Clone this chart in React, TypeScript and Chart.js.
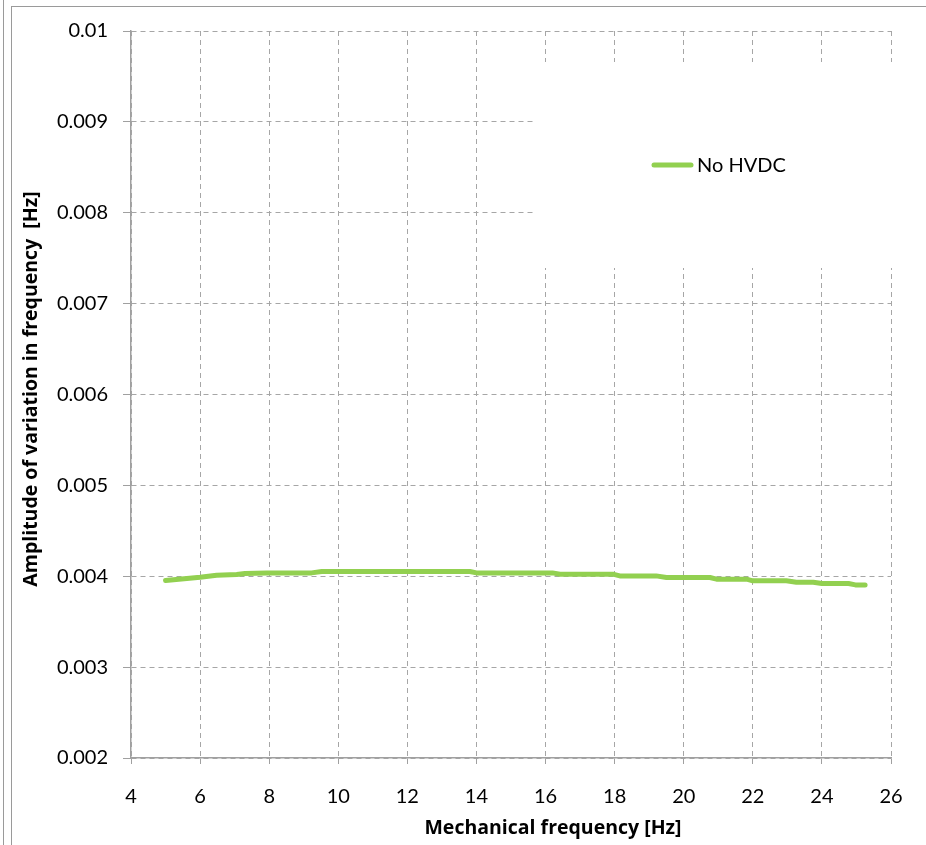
import React, { useEffect, useRef } from "react";
import { Chart, registerables } from "chart.js";

Chart.register(...registerables);

const seriesLabel = "No HVDC";
const freqHz = [5.0, 6.0, 6.48, 7.06, 7.3, 7.93, 9.23, 9.52, 13.81, 14.0, 16.2, 16.42, 17.95, 18.15, 19.2, 19.5, 20.76, 20.95, 21.82, 22.0, 22.97, 23.26, 23.75, 24.0, 24.77, 24.97, 25.25];
const amplitude = [0.003953, 0.00399, 0.004012, 0.004019, 0.00403, 0.004037, 0.004037, 0.004052, 0.004052, 0.004037, 0.004037, 0.004023, 0.004023, 0.004004, 0.004004, 0.003986, 0.003986, 0.003968, 0.003968, 0.00395, 0.00395, 0.003935, 0.003935, 0.00392, 0.00392, 0.003905, 0.003905];
const xTitle = "Mechanical frequency [Hz]";
const yTitle = "Amplitude of variation in frequency  [Hz]";
const xMin = 4, xMax = 26, xStep = 2;
const yMin = 0.002, yMax = 0.01, yStep = 0.001;

const LINE_COLOR = "#92D050";
const GRID_COLOR = "#a6a6a6";
const AXIS_COLOR = "#a0a0a0";
const FONT = "Lato";
const TITLE_FONT = "'Open Sans'";

export default function App() {
  const ref = useRef<HTMLCanvasElement | null>(null);

  useEffect(() => {
    if (!ref.current) return;
    const decor = {
      id: "decor",
      beforeDatasetsDraw(chart: any) {
        const ctx = chart.ctx;
        ctx.save();
        // legend box
        ctx.fillStyle = "#ffffff";
        ctx.fillRect(535, 62, 391, 206);
        ctx.strokeStyle = LINE_COLOR;
        ctx.lineWidth = 5;
        ctx.lineCap = "round";
        ctx.beginPath();
        ctx.moveTo(654, 165);
        ctx.lineTo(691, 165);
        ctx.stroke();
        ctx.fillStyle = "#000";
        ctx.font = `20px ${FONT}`;
        ctx.textBaseline = "middle";
        ctx.textAlign = "left";
        ctx.fillText(chart.data.datasets[0].label, 697, 166);
        ctx.restore();
      },
      afterDraw(chart: any) {
        const ctx = chart.ctx;
        ctx.save();
        ctx.fillStyle = "#000";
        ctx.font = `bold 19.5px ${TITLE_FONT}`;
        ctx.textAlign = "center";
        ctx.textBaseline = "middle";
        ctx.fillText(xTitle, 553, 828);
        ctx.translate(31, 389);
        ctx.rotate(-Math.PI / 2);
        ctx.fillText(yTitle, 0, 0);
        ctx.restore();
      },
    };

    const chart = new Chart(ref.current, {
      type: "line",
      data: {
        datasets: [
          {
            label: seriesLabel,
            data: freqHz.map((x, i) => ({ x, y: amplitude[i] })),
            borderColor: LINE_COLOR,
            backgroundColor: LINE_COLOR,
            borderWidth: 5,
            pointRadius: 0,
            tension: 0,
            borderCapStyle: "round",
            borderJoinStyle: "round",
          },
        ],
      },
      options: {
        responsive: false,
        animation: false,
        layout: { padding: { left: 0, right: 35, top: 31, bottom: 0 } },
        plugins: { legend: { display: false }, tooltip: { enabled: false } },
        scales: {
          x: {
            type: "linear",
            min: xMin,
            max: xMax,
            ticks: {
              stepSize: xStep,
              color: "#000",
              font: { family: FONT, size: 20 },
              padding: 21,
              maxRotation: 0,
            },
            grid: { color: GRID_COLOR, lineWidth: 1, tickLength: 6, tickColor: AXIS_COLOR },
            border: { display: true, color: AXIS_COLOR, width: 1.5, dash: [5, 4] },
            afterFit: (s: any) => {
              s.height = 87;
            },
          },
          y: {
            type: "linear",
            min: yMin,
            max: yMax,
            ticks: {
              stepSize: yStep,
              color: "#000",
              font: { family: FONT, size: 20 },
              padding: 15,
              callback: (v: any) => String(Number(Number(v).toFixed(4))),
            },
            grid: { color: GRID_COLOR, lineWidth: 1, tickLength: 8, tickColor: AXIS_COLOR },
            border: { display: true, color: AXIS_COLOR, width: 1.5, dash: [5, 4] },
            afterFit: (s: any) => {
              s.width = 131;
            },
          },
        },
      },
      plugins: [decor],
    });
    return () => chart.destroy();
  }, []);

  const line = (style: React.CSSProperties) => (
    <div style={{ position: "absolute", background: "#9a9a9a", ...style }} />
  );

  return (
    <div style={{ position: "absolute", left: 0, top: 0, width: 926, height: 845, background: "#fff", overflow: "hidden" }}>
      {line({ left: 3, top: 0, width: 1, height: 845 })}
      {line({ left: 11, top: 6, width: 1, height: 839 })}
      {line({ left: 11, top: 6, width: 915, height: 1 })}
      <canvas ref={ref} width={926} height={845} style={{ position: "absolute", left: 0, top: 0 }} />
    </div>
  );
}
